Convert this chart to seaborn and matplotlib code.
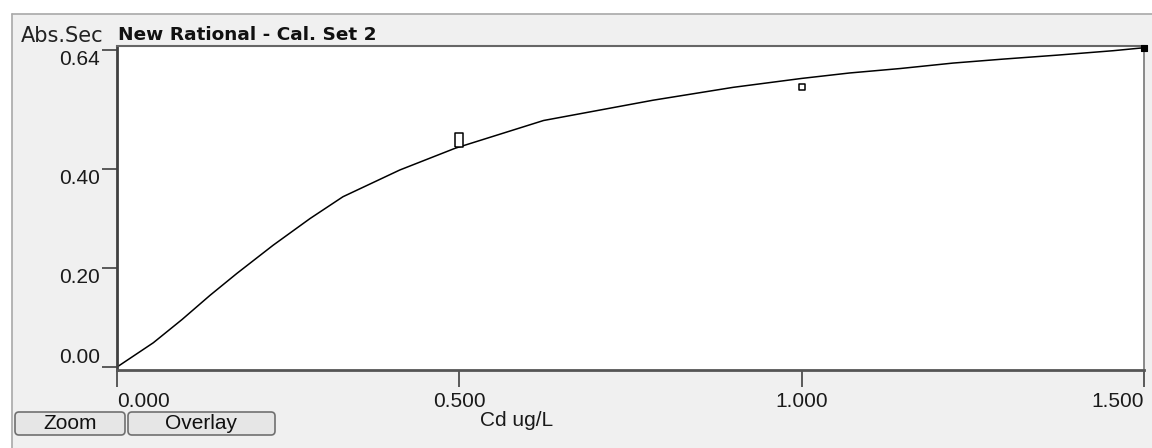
import matplotlib
matplotlib.use("Agg")
import matplotlib.pyplot as plt
import matplotlib.transforms as mtransforms
from matplotlib.patches import FancyBboxPatch, Rectangle
from matplotlib.lines import Line2D
from matplotlib.markers import MarkerStyle
import seaborn as sns

# ---- data ----
curve_x = [0.0, 0.053, 0.095, 0.136, 0.175, 0.228, 0.282, 0.330, 0.413, 0.494,
           0.623, 0.783, 0.900, 1.000, 1.070, 1.144, 1.221, 1.294, 1.373, 1.455, 1.500]
curve_y = [0.0, 0.049, 0.096, 0.145, 0.189, 0.246, 0.300, 0.344, 0.398, 0.442,
           0.498, 0.539, 0.565, 0.583, 0.594, 0.603, 0.614, 0.622, 0.630, 0.639, 0.645]

std_mid_x = [0.5]
std_mid_y = [0.459]
std_hi_x = [1.0]
std_hi_y = [0.566]
std_top_x = [1.5]
std_top_y = [0.645]

x_ticks = [0.0, 0.5, 1.0, 1.5]
x_tick_labels = ["0.000", "0.500", "1.000", "1.500"]
y_ticks = [0.0, 0.2, 0.4, 0.64]
y_tick_labels = ["0.00", "0.20", "0.40", "0.64"]

title = "New Rational - Cal. Set 2"
y_title = "Abs.Sec"
x_title = "Cd ug/L"
buttons = ["Zoom", "Overlay"]

# ---- style ----
sns.set_theme(style="white")
plt.rcParams["font.family"] = ["Liberation Sans", "DejaVu Sans"]

W, H = 1152, 448
fig = plt.figure(figsize=(W / 100, H / 100), dpi=100, facecolor="white")
px = mtransforms.IdentityTransform()

# panel background + its border lines
fig.patches.append(Rectangle((12, 0), W - 12, H - 14, transform=px,
                             facecolor="#f0f0f0", edgecolor="none", zorder=-2))
fig.lines.append(Line2D([12, W], [H - 14, H - 14], transform=px, color="#a8a8a8",
                        lw=1.2, zorder=-1))
fig.lines.append(Line2D([12, 12], [0, H - 14], transform=px, color="#a8a8a8",
                        lw=1.2, zorder=-1))

# plot area
left, right, top, bottom = 117, 1144, 46, 370
ax = fig.add_axes([left / W, 1 - bottom / H, (right - left) / W, (bottom - top) / H])
ax.set_zorder(1)
ax.set_facecolor("white")

sns.lineplot(x=curve_x, y=curve_y, ax=ax, color="black", lw=1.1, sort=False)

tall_rect = MarkerStyle([(-0.3, -0.5), (0.3, -0.5), (0.3, 0.5), (-0.3, 0.5), (-0.3, -0.5)])
sns.scatterplot(x=std_mid_x, y=std_mid_y, ax=ax, marker=tall_rect, s=115,
                color="white", edgecolor="black", linewidth=1.1, zorder=5, clip_on=False)
sns.scatterplot(x=std_hi_x, y=std_hi_y, ax=ax, marker="s", s=22,
                color="white", edgecolor="black", linewidth=1.1, zorder=5, clip_on=False)
sns.scatterplot(x=std_top_x, y=std_top_y, ax=ax, marker="s", s=14,
                color="black", edgecolor="black", linewidth=0.8, zorder=5, clip_on=False)

ax.set_xlim(0.0, 1.5)
ax.set_ylim(-0.006, 0.6485)

ax.set_xticks(x_ticks)
ax.set_xticklabels(x_tick_labels)
ax.set_yticks(y_ticks)
ax.set_yticklabels(y_tick_labels)
ax.tick_params(axis="x", direction="out", length=12, width=1.2, color="#404040",
               labelsize=15, pad=4, labelcolor="#1a1a1a", bottom=True)
ax.tick_params(axis="y", direction="out", length=11, width=1.2, color="#404040",
               labelsize=15, pad=1, labelcolor="#1a1a1a", left=True)
xl = ax.get_xticklabels()
xl[0].set_ha("left")
xl[-1].set_ha("right")
for i, lbl in enumerate(ax.get_yticklabels()):
    lbl.set_va("bottom" if i == 0 else "top")

for side, spine in ax.spines.items():
    spine.set_visible(True)
ax.spines["left"].set_color("#404040")
ax.spines["left"].set_linewidth(2.0)
ax.spines["bottom"].set_color("#555555")
ax.spines["bottom"].set_linewidth(2.0)
ax.spines["top"].set_color("#666666")
ax.spines["top"].set_linewidth(1.5)
ax.spines["right"].set_color("#777777")
ax.spines["right"].set_linewidth(1.2)
ax.grid(False)
ax.set_xlabel("")
ax.set_ylabel("")

# header texts
fig.text(21, H - 42, y_title, transform=px, fontsize=15, family="DejaVu Sans",
         color="#222222", va="baseline", ha="left")
fig.text(118, H - 40, title, transform=px, fontsize=13.3, family="DejaVu Sans",
         fontweight="bold", color="#111111", va="baseline", ha="left")

# x-axis title
fig.text(517, H - 420, x_title, transform=px, fontsize=15, color="#1a1a1a",
         ha="center", va="center")

# buttons
btn_boxes = [(15, 125), (128, 275)]
for label, (x0, x1) in zip(buttons, btn_boxes):
    y0, y1 = 412, 435
    fig.patches.append(FancyBboxPatch((x0, H - y1), x1 - x0, y1 - y0,
                                      boxstyle="round,pad=0,rounding_size=4",
                                      transform=px, facecolor="#e6e6e6",
                                      edgecolor="#707070", lw=1.2, zorder=2))
    fig.text((x0 + x1) / 2, H - (y0 + y1) / 2, label, transform=px, fontsize=15,
             color="#111111", ha="center", va="center", zorder=3)

fig.savefig("out.png", dpi=100, facecolor="white")
